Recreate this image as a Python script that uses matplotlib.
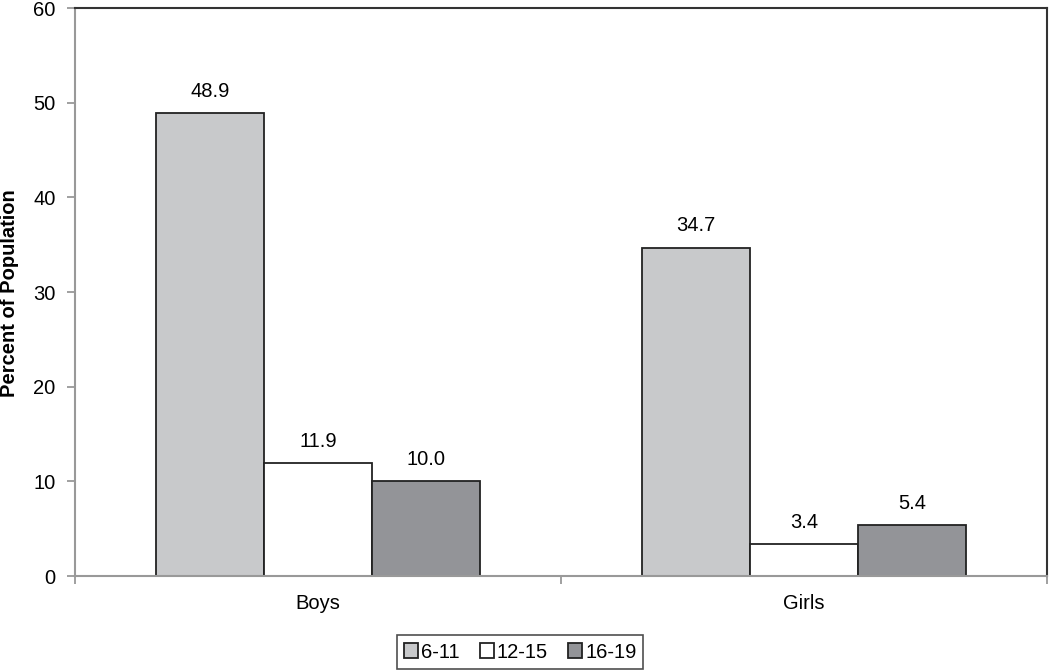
import matplotlib
matplotlib.use("Agg")
import matplotlib.pyplot as plt
import numpy as np

categories = ["Boys", "Girls"]
series_names = ["6-11", "12-15", "16-19"]
values_6_11 = [48.9, 34.7]
values_12_15 = [11.9, 3.4]
values_16_19 = [10.0, 5.4]
colors = ["#c8c9cb", "#ffffff", "#939498"]

plt.rcParams['font.family'] = ['Liberation Sans', 'DejaVu Sans']
FS = 14.5

fig = plt.figure(figsize=(10.5, 6.71), dpi=100)
ax = fig.add_axes([75/1050, 1-576/671, (1047-75)/1050, (576-8)/671])

x = np.arange(len(categories))
w = 0.222
all_vals = [values_6_11, values_12_15, values_16_19]
handles = []
for i, (vals, c, name) in enumerate(zip(all_vals, colors, series_names)):
    bars = ax.bar(x + (i-1)*w, vals, w, color=c, edgecolor="#222222", linewidth=1.3, label=name)
    handles.append(bars)
    for b, v in zip(bars, vals):
        ax.text(b.get_x()+b.get_width()/2, v + 1.3, f"{v:.1f}", ha="center", va="bottom", fontsize=FS)

ax.set_xlim(-0.5, 1.5)
ax.set_ylim(0, 60)
ax.set_yticks(range(0, 61, 10))
ax.set_xticks(x)
ax.set_xticklabels(categories, fontsize=FS)
ax.tick_params(axis='x', length=0, pad=13)
ax.set_xticks([-0.5, 0.5, 1.5], minor=True)
ax.tick_params(axis='x', which='minor', length=6, color="#999999", width=1.3, direction='out')
ax.tick_params(axis='y', length=6, color="#999999", width=1.3, labelsize=FS, pad=8)
for s in ["left", "bottom"]:
    ax.spines[s].set_color("#999999")
    ax.spines[s].set_linewidth(1.5)
for s in ["top", "right"]:
    ax.spines[s].set_color("#333333")
    ax.spines[s].set_linewidth(1.5)

fig.text(10/1050, 1-293/671, "Percent of Population", rotation=90, ha="center", va="center",
         fontsize=FS, fontweight="bold")

leg = fig.legend(handles=handles, labels=series_names, loc="center", bbox_to_anchor=(520/1050, 1-652/671),
                 ncol=3, frameon=True, fontsize=FS, handlelength=0.7, handleheight=0.7,
                 handletextpad=0.15, columnspacing=1.0, borderpad=0.35, fancybox=False)
leg.get_frame().set_edgecolor("#222222")
leg.get_frame().set_linewidth(1.2)

fig.savefig("out.png", dpi=100)
